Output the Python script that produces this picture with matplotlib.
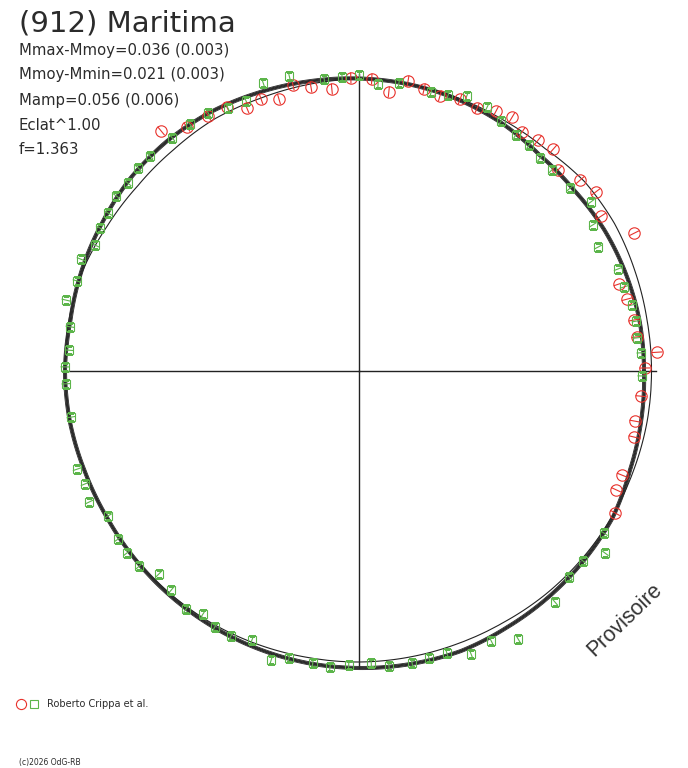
import numpy as np
import matplotlib
matplotlib.use("Agg")
import matplotlib.pyplot as plt
from matplotlib.collections import LineCollection
from matplotlib.lines import Line2D

# ---------------- data ----------------
title = "(912) Maritima"
stats = ["Mmax-Mmoy=0.036 (0.003)", "Mmoy-Mmin=0.021 (0.003)",
         "Mamp=0.056 (0.006)", "Eclat^1.00", "f=1.363"]
author = "Roberto Crippa et al."
copyright_txt = "(c)2026 OdG-RB"
watermark = "Provisoire"

# model curve (angle in degrees, radius in plot units)
model_theta = [0, 10, 20, 30, 40, 50, 60, 70, 80, 90, 100, 110, 120, 130, 140, 150, 160, 170,
               180, 190, 200, 210, 220, 230, 240, 250, 260, 270, 280, 290, 300, 310, 320, 330, 340, 350]
model_r = [285, 285, 284, 283, 281, 281.5, 286, 289, 291, 292.5, 294, 296, 298.5, 299.5, 299, 296.5, 295, 293,
           294, 293.5, 292, 291.5, 292.5, 293.5, 294.5, 295.5, 296.5, 297, 297.5, 298, 296, 295, 294, 293, 288.5, 286.5]
# reference curve
ref_r = [292.5, 292.5, 293.5, 295, 294.5, 290, 289.5, 290.5, 291.5, 292, 291, 290, 290.5, 288.7, 288.5, 290.5, 294, 294.5,
         294, 293, 292, 291.5, 292, 292, 292, 291.5, 291, 291, 290.5, 290, 290, 291, 291.5, 292, 292, 292.5]

# session 1 (red circles): phase angle (deg), radius
red_theta = [129.5, 125.2, 120.6, 116.6, 113.1, 109.8, 106.4, 103.0, 99.6, 95.5, 91.6, 87.5, 83.9, 80.4,
             77.0, 73.6, 69.6, 65.8, 62.2, 58.9, 55.7, 52.2, 48.8, 45.3, 40.8, 37.1, 32.6, 26.6, 18.5,
             15.0, 10.5, 7.0, 3.6, 0.6, 354.9, 349.7, 346.5, 338.4, 335.2, 331.0]
red_r = [311.1, 298.5, 296.4, 295.2, 285.9, 289.1, 283.5, 293.5, 288.0, 283.3, 293.1, 292.3, 280.6, 294.1,
         289.4, 286.7, 290.1, 288.3, 293.9, 296.5, 289.3, 292.2, 294.8, 282.9, 292.1, 297.0, 287.4, 307.7, 274.2,
         277.5, 279.7, 280.1, 298.6, 286.0, 283.1, 280.5, 282.8, 282.8, 283.2, 292.7]

# session 2 (green squares)
green_theta = [137.4, 134.2, 128.7, 124.4, 120.3, 116.5, 112.7, 108.4, 103.3, 96.8, 93.3, 90.0, 86.2, 82.1,
               75.5, 72.1, 68.6, 64.1, 60.4, 56.4, 53.0, 49.6, 46.2, 40.9, 36.1, 32.0, 27.4, 21.5, 17.6,
               13.6, 10.2, 6.8, 3.7, 359.0, 326.5, 323.5, 319.7, 315.6, 310.3, 300.7, 296.1, 291.6, 287.3,
               283.7, 280.3, 275.8, 272.4, 268.0, 264.4, 261.0, 256.3, 253.1, 248.3, 244.2, 240.6, 237.3,
               234.0, 229.4, 225.4, 221.6, 218.1, 214.9, 210.0, 205.9, 202.4, 199.2, 189.1, 182.5, 179.2,
               175.9, 171.3, 166.4, 162.3, 158.1, 154.5, 151.1, 147.8, 144.2, 140.9]
green_r = [300.1, 299.8, 298.8, 299.3, 298.9, 293.8, 292.7, 303.6, 303.2, 294.1, 294.5, 296.0, 287.6, 290.8,
           288.1, 290.0, 295.4, 293.4, 287.5, 283.5, 282.8, 279.5, 278.7, 279.3, 287.0, 275.8, 269.3, 278.4, 278.0,
           280.9, 281.5, 280.0, 282.6, 283.0, 293.7, 306.0, 293.7, 294.2, 303.0, 311.6, 300.5, 304.4, 295.4,
           295.4, 296.8, 296.5, 292.2, 294.2, 297.4, 295.6, 295.4, 302.1, 289.5, 294.3, 293.7, 288.8,
           294.2, 288.6, 285.0, 294.0, 294.9, 293.8, 289.9, 300.1, 296.4, 298.5, 291.7, 293.3, 294.0,
           290.8, 292.3, 301.5, 296.0, 299.7, 292.5, 295.9, 296.6, 299.5, 297.8]

axis_len = 297

# ---------------- figure ----------------
W, H = 688, 768
fig = plt.figure(figsize=(W / 100, H / 100), dpi=100)
cx, cy = 359, 371
R = 330
ax = fig.add_axes([(cx - R) / W, (H - cy - R) / H, 2 * R / W, 2 * R / H], projection="polar")
ax.set_rlim(0, R)
ax.grid(False)
ax.set_xticks([])
ax.set_yticks([])
ax.spines["polar"].set_visible(False)
ax.patch.set_alpha(0)

# axes cross
for a in [0, 90, 180, 270]:
    ax.plot([np.deg2rad(a)] * 2, [0, axis_len], color="#222222", lw=1.0, zorder=2)

th = np.deg2rad(np.array(model_theta + [model_theta[0] + 360]))
mr = np.array(model_r + [model_r[0]])
rr = np.array(ref_r + [ref_r[0]])


def smooth_polar(line, steps=16):
    # let the polar transform draw curved segments between samples
    line.get_path()._interpolation_steps = steps
    return line


# reference thin curve
smooth_polar(ax.plot(th, rr, color="#222222", lw=0.8, zorder=3)[0])
# model band (several overlapping solutions)
for off, lw in [(-1.6, 0.6), (-0.8, 0.8), (0.0, 1.1), (0.8, 0.8), (1.6, 0.6)]:
    smooth_polar(ax.plot(th, mr + off, color="#2a2a2a", lw=lw, zorder=3)[0])

red_col = "#e8322c"
green_col = "#5cb54a"


def radial_segments(theta_deg, r, half):
    t = np.deg2rad(np.array(theta_deg))
    r = np.array(r)
    return [[(ti, ri - half), (ti, ri + half)] for ti, ri in zip(t, r)]


ax.add_collection(LineCollection(radial_segments(red_theta, red_r, 5.5), colors=red_col, lw=0.8, zorder=4))
ax.add_collection(LineCollection(radial_segments(green_theta, green_r, 4.5), colors=green_col, lw=0.8, zorder=4))
ax.plot(np.deg2rad(red_theta), red_r, ls="none", marker="o", ms=8.2, mfc="none",
        mec=red_col, mew=0.8, zorder=4)
ax.plot(np.deg2rad(green_theta), green_r, ls="none", marker="s", ms=6.3, mfc="none",
        mec=green_col, mew=0.8, zorder=4)


def fx(x):
    return x / W


def fy(y):
    return 1 - y / H


txt_col = "#2b2b2b"
fig.text(fx(19), fy(31.5), title, fontsize=21, color=txt_col, family="DejaVu Sans", va="baseline")
for i, s in enumerate(stats):
    fig.text(fx(19), fy(54.5 + 25 * i), s, fontsize=10.7, color=txt_col, family="DejaVu Sans", va="baseline")

# legend
fig.add_artist(Line2D([fx(21)], [fy(704)], transform=fig.transFigure, marker="o", ms=7.3,
                      mfc="none", mec=red_col, mew=0.8, ls="none"))
fig.add_artist(Line2D([fx(34)], [fy(704)], transform=fig.transFigure, marker="s", ms=5.2,
                      mfc="none", mec=green_col, mew=0.8, ls="none"))
fig.text(fx(47), fy(704), author, fontsize=7.0, color=txt_col, family="DejaVu Sans", va="center")
fig.text(fx(19), fy(763), copyright_txt, fontsize=5.5, color=txt_col, family="DejaVu Sans", va="center")

fig.text(fx(625), fy(620), watermark, fontsize=15.5, color="#333333", family="Liberation Sans",
         rotation=44, ha="center", va="center", rotation_mode="anchor")

fig.savefig("out.png", dpi=100, facecolor="white")
